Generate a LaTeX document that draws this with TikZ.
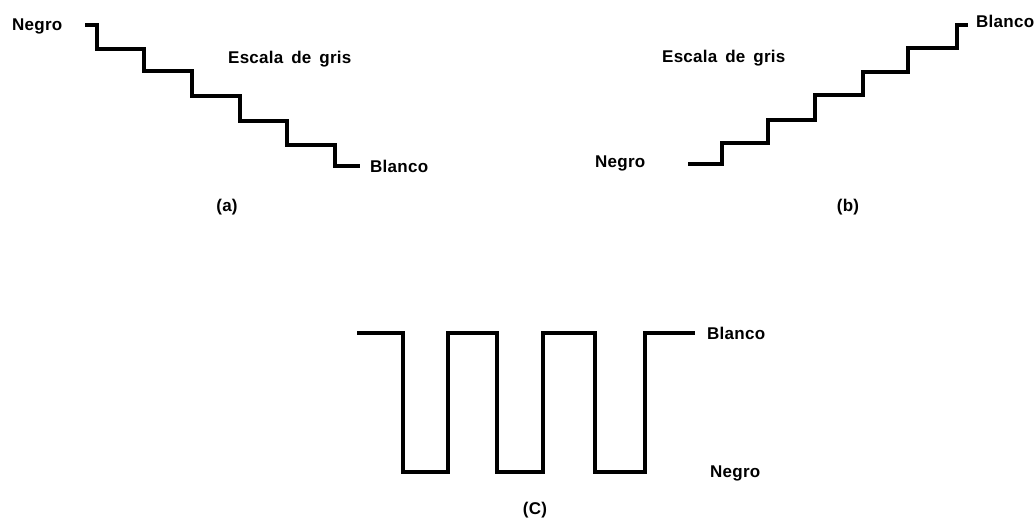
\documentclass[tikz,border=0pt]{standalone}
\usepackage{fontspec}
\setmainfont{Liberation Sans}[LetterSpace=1.5,WordSpace=1.6]
\begin{document}
\begin{tikzpicture}[x=1pt,y=-1pt,
  signal/.style={line width=4.2pt,line join=miter,line cap=butt},
  lbl/.style={font=\bfseries\fontsize{17}{17}\selectfont,inner sep=0pt}]
\useasboundingbox (0,0) rectangle (1036,521);

% (a) descending grey scale
\node[lbl,anchor=west] (a-negro) at (12,26) {Negro};
\node[lbl,anchor=west] (a-title) at (228,59) {Escala de gris};
\node[lbl,anchor=west] (a-blanco) at (370,166) {Blanco};
\node[lbl] (a-cap) at (227,207) {(a)};
\draw[signal] (85,25) -| (97,49) -| (144,71) -| (192,96) -| (240,121)
  -| (287,145) -| (335,166) -- (360,166);

% (b) ascending grey scale
\node[lbl,anchor=west] (b-negro) at (595,163) {Negro};
\node[lbl,anchor=west] (b-title) at (662,58) {Escala de gris};
\node[lbl,anchor=west] (b-blanco) at (976,21) {Blanco};
\node[lbl] (b-cap) at (848,207) {(b)};
\draw[signal] (688,164) -| (722,143) -| (768,120) -| (815,95)
  -| (863,72) -| (908,48) -| (957,25) -- (968,25);

% (c) alternating black and white
\node[lbl,anchor=west] (c-blanco) at (707,333) {Blanco};
\node[lbl,anchor=west] (c-negro) at (710,473) {Negro};
\node[lbl] (c-cap) at (535,510) {(C)};
\draw[signal] (357,333) -| (403,472) -| (448,333) -| (497,472)
  -| (543,333) -| (595,472) -| (645,333) -- (695,333);
\end{tikzpicture}
\end{document}
